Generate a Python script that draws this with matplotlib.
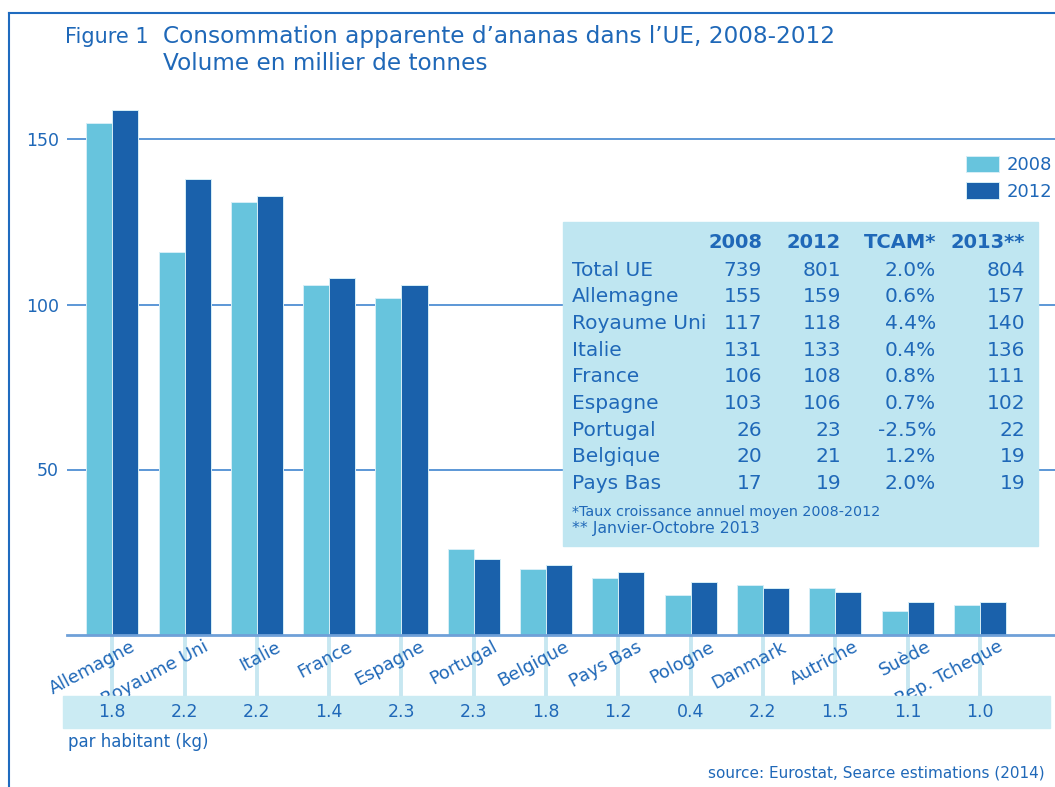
import numpy as np
import matplotlib
matplotlib.use("Agg")
import matplotlib.pyplot as plt
from matplotlib.patches import Rectangle
from matplotlib.lines import Line2D
import matplotlib.transforms as mtransforms

# ---- data ----
countries = ["Allemagne", "Royaume Uni", "Italie", "France", "Espagne", "Portugal",
             "Belgique", "Pays Bas", "Pologne", "Danmark", "Autriche", "Suède",
             "Rep. Tcheque"]
vol_2008 = [155, 116, 131, 106, 102, 26, 20, 17, 12, 15, 14, 7, 9]
vol_2012 = [159, 138, 133, 108, 106, 23, 21, 19, 16, 14, 13, 10, 10]
per_capita = ["1.8", "2.2", "2.2", "1.4", "2.3", "2.3", "1.8", "1.2", "0.4",
              "2.2", "1.5", "1.1", "1.0"]

table_header = ["2008", "2012", "TCAM*", "2013**"]
table_rows = ["Total UE", "Allemagne", "Royaume Uni", "Italie", "France",
              "Espagne", "Portugal", "Belgique", "Pays Bas"]
table_2008 = ["739", "155", "117", "131", "106", "103", "26", "20", "17"]
table_2012 = ["801", "159", "118", "133", "108", "106", "23", "21", "19"]
table_tcam = ["2.0%", "0.6%", "4.4%", "0.4%", "0.8%", "0.7%", "-2.5%", "1.2%", "2.0%"]
table_2013 = ["804", "157", "140", "136", "111", "102", "22", "19", "19"]

# ---- style ----
light = "#67c4dd"
dark = "#1a61ab"
txt = "#1f68b8"
W, H = 1055, 787


def fx(px):
    return px / W


def fy(py):
    return 1 - py / H


plt.rcParams["font.family"] = ["DejaVu Sans"]

fig = plt.figure(figsize=(W / 100, H / 100), dpi=100)
fig.patch.set_facecolor("white")

ax = fig.add_axes([fx(67), fy(634.5), (1055 - 67) / W, (634.5 - 106.5) / H])
x = np.arange(len(countries))
w = 0.36
b1 = ax.bar(x - w / 2, vol_2008, w, color=light, edgecolor="#d6eef7", linewidth=0.7,
            label="2008", zorder=2)
b2 = ax.bar(x + w / 2, vol_2012, w, color=dark, edgecolor="#d6eef7", linewidth=0.7,
            label="2012", zorder=2)

ax.set_xlim(-0.627, 13.04)
ax.set_ylim(0, 160)
ax.set_yticks([50, 100, 150])
ax.yaxis.grid(True, color="#4f8fd3", linewidth=1.3)
ax.set_axisbelow(True)
for s in ["top", "right", "left"]:
    ax.spines[s].set_visible(False)
ax.spines["bottom"].set_color("#6fa0d8")
ax.spines["bottom"].set_linewidth(2)
ax.tick_params(axis="y", length=0, pad=6, labelsize=12.5, labelcolor=txt)
ax.set_xticks(x)
ax.tick_params(axis="x", length=44.5, width=2.8, color="#c7e7f1", labelbottom=False)

for i, name in enumerate(countries):
    ax.text(i + 0.25, -1.0, name, rotation=28, ha="right", va="top",
            rotation_mode="anchor", fontsize=12.8, color=txt, clip_on=False)

# legend
ax.legend(handles=[b1, b2], loc="upper left", bbox_to_anchor=(fx(966), fy(155.5)),
          bbox_transform=fig.transFigure, frameon=False, fontsize=13,
          labelcolor=txt, handlelength=1.85, handleheight=1.05,
          handletextpad=0.4, labelspacing=0.45, borderpad=0, borderaxespad=0)

# per capita band
fig.add_artist(Rectangle((fx(63), fy(728)), fx(1050) - fx(63), (728 - 696) / H,
                         transform=fig.transFigure, color="#cbebf3", zorder=1))
blend = mtransforms.blended_transform_factory(ax.transData, fig.transFigure)
for i, v in enumerate(per_capita):
    fig.text(i, fy(712), v, transform=blend, ha="center", va="center",
             fontsize=12.5, color=txt, zorder=3)
fig.text(fx(68), fy(742), "par habitant (kg)", va="center", fontsize=12, color=txt)

# table
fig.add_artist(Rectangle((fx(563), fy(546)), fx(1038) - fx(563), (546 - 222) / H,
                         transform=fig.transFigure, color="#bfe6f1", zorder=1))
col_right = [762, 841, 936, 1025]
for cx, h in zip(col_right, table_header):
    fig.text(fx(cx), fy(243), h, ha="right", va="center", fontsize=14,
             fontweight="bold", color=txt)
cols = [table_2008, table_2012, table_tcam, table_2013]
for r, name in enumerate(table_rows):
    yy = fy(270 + r * 26.67)
    fig.text(fx(572), yy, name, ha="left", va="center", fontsize=14.5, color=txt)
    for cx, col in zip(col_right, cols):
        fig.text(fx(cx), yy, col[r], ha="right", va="center", fontsize=14.5, color=txt)
fig.text(fx(572), fy(512), "*Taux croissance annuel moyen 2008-2012", va="center",
         fontsize=10.3, color=txt)
fig.text(fx(572), fy(529), "** Janvier-Octobre 2013", va="center", fontsize=11.3,
         color=txt)

# title
fig.text(fx(65), fy(43), "Figure 1", fontsize=15, color=txt)
fig.text(fx(163), fy(43), "Consommation apparente d\u2019ananas dans l\u2019UE, 2008-2012",
         fontsize=16.7, color=txt)
fig.text(fx(163), fy(70), "Volume en millier de tonnes", fontsize=16.7, color=txt)

fig.text(fx(1045), fy(773), "source: Eurostat, Searce estimations (2014)", ha="right",
         va="center", fontsize=11, color=txt)

# frame
fig.add_artist(Line2D([fx(9), 1], [fy(13), fy(13)], transform=fig.transFigure,
                      color="#1f6bbf", linewidth=1.5))
fig.add_artist(Line2D([fx(9), fx(9)], [fy(13), 0], transform=fig.transFigure,
                      color="#1f6bbf", linewidth=1.5))

fig.savefig("out.png", dpi=100)
